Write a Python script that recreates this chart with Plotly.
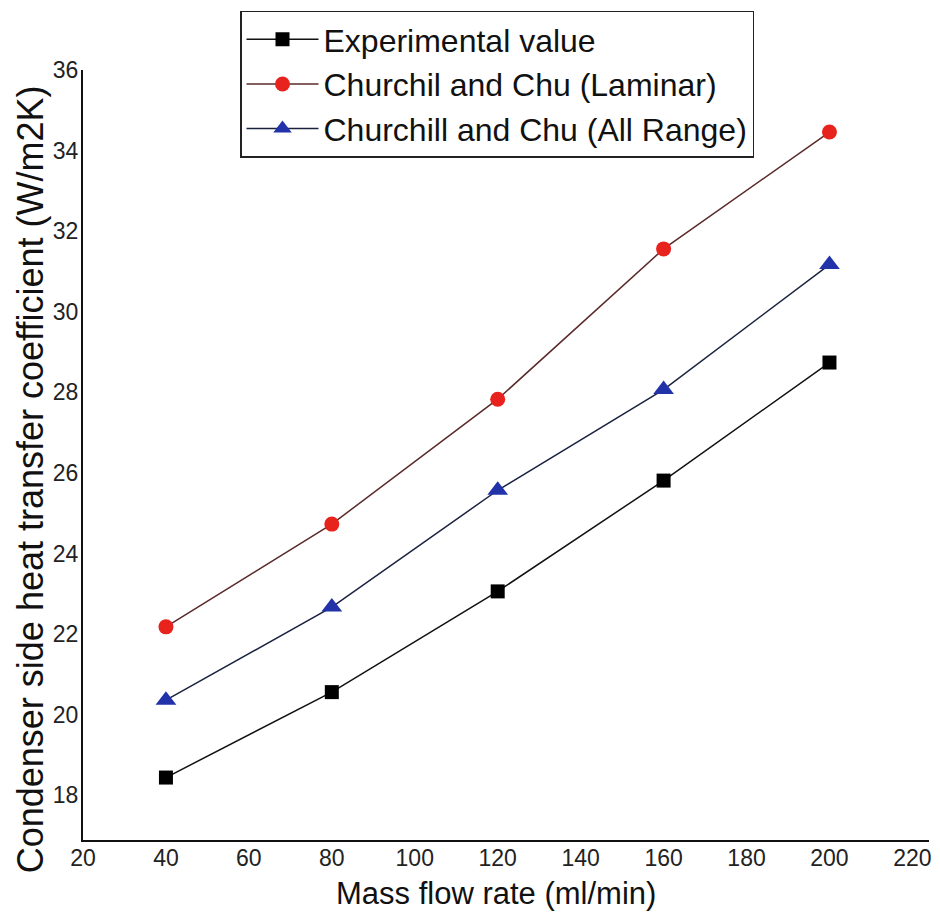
import plotly.graph_objects as go

flow_rate = [40, 80, 120, 160, 200]
experimental = [18.44, 20.56, 23.06, 25.81, 28.74]
laminar = [22.18, 24.73, 27.83, 31.56, 34.46]
all_range = [20.36, 22.67, 25.57, 28.07, 31.17]

x_ticks = [20, 40, 60, 80, 100, 120, 140, 160, 180, 200, 220]
y_ticks = [18, 20, 22, 24, 26, 28, 30, 32, 34, 36]

x_title = "Mass flow rate (ml/min)"
y_title = "Condenser side heat transfer coefficient (W/m2K)"

FONT = "Liberation Sans, Arial, sans-serif"

W, H = 940, 919
L, R, T, B = 83, 11, 63, 79
PW, PH = W - L - R, H - T - B

fig = go.Figure()
fig.add_trace(go.Scatter(
    x=flow_rate, y=experimental, mode="lines+markers", name="Experimental value",
    line=dict(color="#111111", width=1.5),
    marker=dict(symbol="square", size=14, color="#000000")))
fig.add_trace(go.Scatter(
    x=flow_rate, y=laminar, mode="lines+markers", name="Churchil and Chu (Laminar)",
    line=dict(color="#5a2a2a", width=1.5),
    marker=dict(symbol="circle", size=15, color="#e8221c")))
fig.add_trace(go.Scatter(
    x=flow_rate, y=all_range, mode="lines+markers", name="Churchill and Chu (All Range)",
    line=dict(color="#1a2240", width=1.5),
    marker=dict(symbol="triangle-up", size=18, color="#2233aa")))

fig.update_layout(
    width=W, height=H,
    margin=dict(l=L, r=R, t=T, b=B),
    paper_bgcolor="white", plot_bgcolor="white",
    font=dict(family=FONT, color="#111111"),
    showlegend=True,
    legend=dict(
        x=(240 - L) / PW, y=1 + (T - 3) / PH, xanchor="left", yanchor="top",
        bgcolor="white", bordercolor="#222222", borderwidth=1.5,
        font=dict(family=FONT, size=32, color="#111111"),
        tracegroupgap=0, itemwidth=72,
    ),
    xaxis=dict(
        range=[20, 224], tickvals=x_ticks, ticks="", showgrid=False, zeroline=False,
        showline=True, linecolor="#111111", linewidth=2, automargin=False,
        tickfont=dict(family=FONT, size=23, color="#222222"), ticklabelstandoff=-4,
    ),
    yaxis=dict(
        range=[16.89, 36.0], tickvals=y_ticks, ticks="", showgrid=False, zeroline=False,
        showline=True, linecolor="#111111", linewidth=2, automargin=False,
        tickfont=dict(family=FONT, size=23, color="#222222"), ticklabelstandoff=-2,
    ),
    annotations=[
        dict(text=x_title, xref="paper", yref="paper",
             x=(496 - L) / PW, y=-(894 - (T + PH)) / PH,
             xanchor="center", yanchor="middle", showarrow=False,
             font=dict(family=FONT, size=31, color="#111111")),
        dict(text=y_title, xref="paper", yref="paper", textangle=-90,
             x=(30 - L) / PW, y=((T + PH) - 476) / PH,
             xanchor="center", yanchor="middle", showarrow=False,
             font=dict(family=FONT, size=36, color="#111111")),
    ],
)

fig.write_html("out.html", config={"displayModeBar": False},
               post_script="document.body.style.margin='0';document.body.style.padding='0';")
